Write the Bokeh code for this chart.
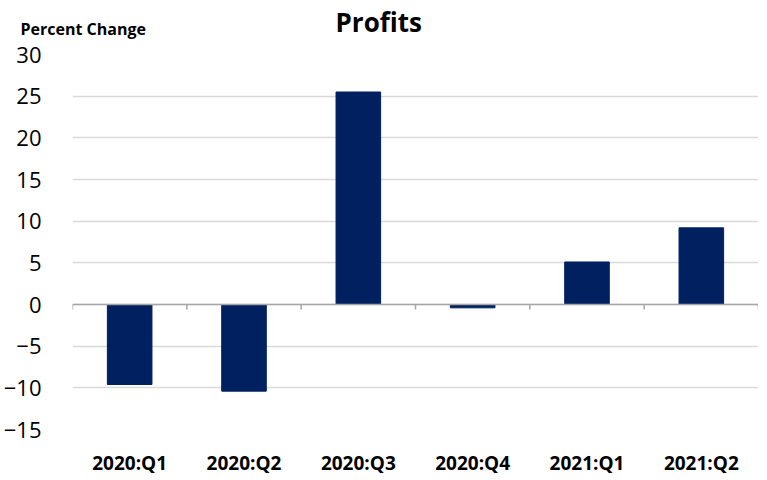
from bokeh.plotting import figure
from bokeh.models import FactorRange, Range1d, Span, Title, FixedTicker, ColumnDataSource
from bokeh.embed import file_html
from bokeh.resources import INLINE

quarters = ["2020:Q1", "2020:Q2", "2020:Q3", "2020:Q4", "2021:Q1", "2021:Q2"]
profits = [-9.6, -10.4, 25.5, -0.4, 5.1, 9.2]
y_ticks = [-15, -10, -5, 0, 5, 10, 15, 20, 25, 30]

FONT = "Open Sans"
BAR = "#002060"

W, H = 758, 478
FL, FT, FB = 68, 54, 41   # borders

p = figure(width=W, height=H, x_range=FactorRange(*quarters, range_padding=0),
           y_range=Range1d(-15, 30), output_backend="svg", toolbar_location=None,
           min_border_left=FL, min_border_right=0, min_border_top=FT, min_border_bottom=FB)
p.outline_line_color = None

p.title.text = "Profits"
p.title.align = "left"
p.title.offset = 263
p.title.text_font = FONT
p.title.text_font_style = "bold"
p.title.text_font_size = "26px"
p.title.text_color = "#000000"
p.title.standoff = -78

p.add_layout(Title(text="Percent Change", align="left", offset=-52, text_font=FONT,
                   text_font_style="bold", text_font_size="16px", text_color="#000000",
                   standoff=30), "above")

src = ColumnDataSource(dict(q=quarters, v=profits))
p.vbar(x="q", top="v", bottom=0, width=0.39, source=src, fill_color=BAR, line_color=BAR)

p.add_layout(Span(location=0, dimension="width", line_color="#a6a6a6", line_width=1.5))
bounds = list(range(len(quarters) + 1))
p.segment(x0=bounds, x1=bounds, y0=[0] * len(bounds), y1=[-0.6] * len(bounds),
          line_color="#a6a6a6", line_width=1.5)

p.yaxis.ticker = FixedTicker(ticks=y_ticks)
p.yaxis.axis_line_color = None
p.yaxis.major_tick_line_color = None
p.yaxis.minor_tick_line_color = None
p.yaxis.major_label_text_font = FONT
p.yaxis.major_label_text_font_size = "22px"
p.yaxis.major_label_text_color = "#000000"
p.yaxis.major_label_standoff = 25

p.xaxis.axis_line_color = None
p.xaxis.major_tick_line_color = None
p.xaxis.major_label_text_font = FONT
p.xaxis.major_label_text_font_style = "bold"
p.xaxis.major_label_text_font_size = "19px"
p.xaxis.major_label_text_color = "#000000"
p.xaxis.major_label_standoff = 14

p.xgrid.grid_line_color = None
p.ygrid.grid_line_color = "#d9d9d9"
p.ygrid.grid_line_width = 1.5

open("out.html", "w").write(file_html(p, INLINE))
